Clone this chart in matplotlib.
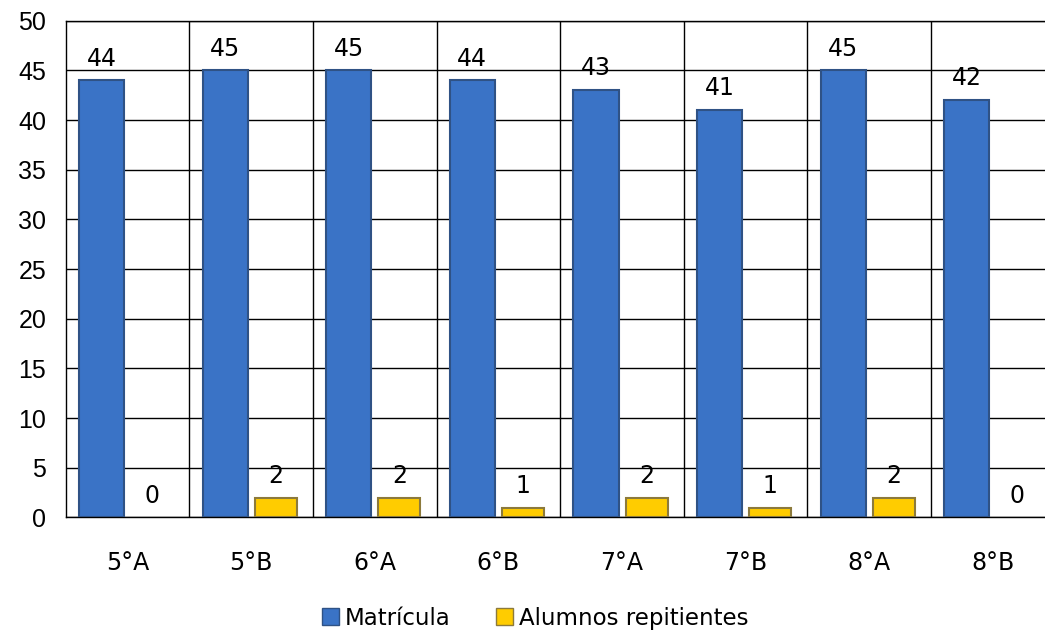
import matplotlib.pyplot as plt
import numpy as np
from matplotlib.patches import Patch

# data
grades = ['5°A', '5°B', '6°A', '6°B', '7°A', '7°B', '8°A', '8°B']
matricula = [44, 45, 45, 44, 43, 41, 45, 42]
repitentes = [0, 2, 2, 1, 2, 1, 2, 0]

blue = '#3a73c6'
blue_edge = '#2f5285'
gold = '#ffcc00'
gold_edge = '#8c7a3c'

fig = plt.figure(figsize=(10.45, 6.34), dpi=100)
# the plot area runs past the right edge of the picture, as in the reference
ax = fig.add_axes([0.0629, 0.1838, 0.9462, 0.7836])

x = np.arange(len(grades))
b1 = ax.bar(x - 0.21, matricula, width=0.365, color=blue,
            edgecolor=blue_edge, linewidth=1.5, zorder=3)
# zero-height bars are not drawn in the reference
b2 = ax.bar(x + 0.20, repitentes, width=0.34, color=gold,
            edgecolor=[gold_edge if v > 0 else 'none' for v in repitentes],
            linewidth=1.5, zorder=3)

for rect, v in zip(b1, matricula):
    ax.annotate(str(v), (rect.get_x() + rect.get_width() / 2, v),
                xytext=(0, 7), textcoords='offset points',
                ha='center', va='bottom', fontsize=17)
for rect, v in zip(b2, repitentes):
    ax.annotate(str(v), (rect.get_x() + rect.get_width() / 2, v),
                xytext=(0, 7), textcoords='offset points',
                ha='center', va='bottom', fontsize=17)

ax.set_xlim(-0.5, len(grades) - 0.5)
ax.set_ylim(0, 50)
ax.set_yticks(range(0, 51, 5))
ax.set_xticks(x)
ax.set_xticklabels(grades, fontsize=17)
ax.tick_params(axis='y', length=0, pad=14, labelsize=18)
ax.tick_params(axis='x', length=0, pad=24)
for lab in ax.get_yticklabels():
    lab.set_family('Liberation Sans')

ax.yaxis.grid(True, color='black', linewidth=1, zorder=0)
ax.set_axisbelow(True)
for xv in np.arange(0.5, len(grades) - 0.5):
    ax.axvline(xv, color='black', linewidth=1, zorder=0)
for s in ax.spines.values():
    s.set_color('black')
    s.set_linewidth(1)

handles = [Patch(facecolor=blue, edgecolor=blue_edge, label='Matrícula'),
           Patch(facecolor=gold, edgecolor=gold_edge, label='Alumnos repitientes')]
fig.legend(handles=handles, loc='center', bbox_to_anchor=(0.512, 0.025),
           ncol=2, frameon=False, fontsize=16.5, handlelength=0.75,
           handleheight=0.75, handletextpad=0.25, columnspacing=2.0,
           borderpad=0)

plt.savefig('out.png')
